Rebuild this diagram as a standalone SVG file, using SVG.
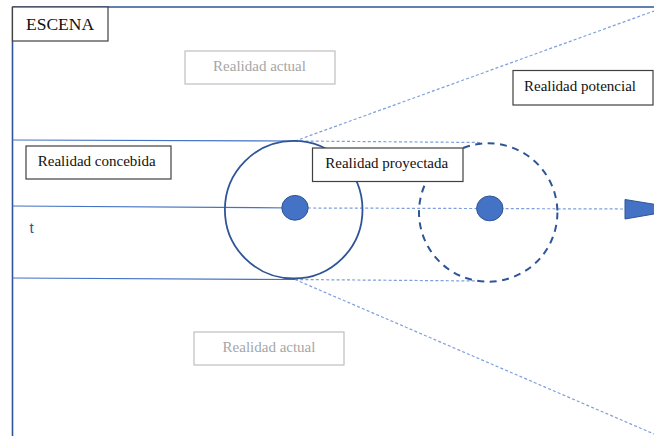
<svg xmlns="http://www.w3.org/2000/svg" width="654" height="436" viewBox="0 0 654 436">
  <style>
    .frame { fill: none; stroke: #2F5597; stroke-width: 1.6; }
    .axis { fill: none; stroke: #4472C4; stroke-width: 1.2; }
    .dotted { fill: none; stroke: #7F9FDB; stroke-width: 1.2; stroke-dasharray: 3 2.2; }
    .ring { fill: none; stroke: #2F5597; stroke-width: 1.8; }
    .ring-dash { fill: none; stroke: #2F5597; stroke-width: 2; stroke-dasharray: 7 5.5; }
    .dot { fill: #4472C4; stroke: #2F5597; stroke-width: 1; }
    .box { fill: #ffffff; stroke: #404040; stroke-width: 1.2; }
    .box-faint { fill: #ffffff; stroke: #BFBFBF; stroke-width: 1.2; }
  </style>

  <!-- scene frame -->
  <g id="frame">
    <line class="frame" x1="12.5" y1="7" x2="654" y2="7"/>
    <line class="frame" x1="12.5" y1="7" x2="12.5" y2="436"/>
  </g>

  <!-- connectors and guide lines -->
  <g id="connectors">
    <line class="axis" x1="12.5" y1="140" x2="295" y2="141"/>
    <line class="axis" x1="12.5" y1="206" x2="295" y2="208"/>
    <line class="axis" x1="12.5" y1="278" x2="295" y2="279.5"/>
    <line class="dotted" x1="295" y1="141" x2="482" y2="142.5"/>
    <line class="dotted" x1="295" y1="279.5" x2="480" y2="281"/>
    <line class="dotted" x1="295" y1="141" x2="654" y2="11"/>
    <line class="dotted" x1="295" y1="279.5" x2="654" y2="434"/>
    <line class="dotted" x1="308" y1="208" x2="626" y2="209"/>
    <polygon points="625,199.5 683,209 625,219" fill="#4472C4" stroke="#2F5597" stroke-width="1"/>
  </g>

  <!-- present state: circle with centre point -->
  <g id="present">
    <circle class="ring" cx="293.7" cy="209.7" r="68.8"/>
    <ellipse class="dot" cx="295" cy="207.8" rx="13.2" ry="12.4"/>
  </g>

  <!-- projected state: dashed circle with centre point -->
  <g id="projected">
    <circle class="ring-dash" cx="488.2" cy="212.5" r="69.2"/>
    <ellipse class="dot" cx="489.8" cy="208.4" rx="13.2" ry="12.4"/>
  </g>

  <g font-family="'Liberation Serif', 'Times New Roman', serif" font-size="15" text-anchor="middle">
    <g id="escena">
      <rect class="box" x="12.5" y="7" width="95.5" height="34"/>
      <text x="60" y="30" font-size="17.5" fill="#111111">ESCENA</text>
    </g>

    <g id="actual-top">
      <rect class="box-faint" x="185" y="51" width="150" height="33"/>
      <text x="259.5" y="70.5" fill="#A6A6A6">Realidad actual</text>
    </g>

    <g id="actual-bottom">
      <rect class="box-faint" x="194" y="332" width="150" height="33"/>
      <text x="269" y="351.5" fill="#A6A6A6">Realidad actual</text>
    </g>

    <g id="potencial">
      <rect class="box" x="513" y="70.5" width="140" height="34.5"/>
      <text x="580" y="91" fill="#111111">Realidad potencial</text>
    </g>

    <g id="concebida">
      <rect class="box" x="26" y="146" width="145" height="33"/>
      <text x="96.7" y="166" fill="#111111">Realidad concebida</text>
    </g>

    <g id="proyectada">
      <rect class="box" x="312.5" y="148" width="150.5" height="33.5"/>
      <text x="386.7" y="168" fill="#111111">Realidad proyectada</text>
    </g>
  </g>

  <g id="t-label">
    <text x="29.5" y="232.5" font-family="'Liberation Sans', Arial, sans-serif" font-size="15" fill="#2F5597">t</text>
  </g>
</svg>
